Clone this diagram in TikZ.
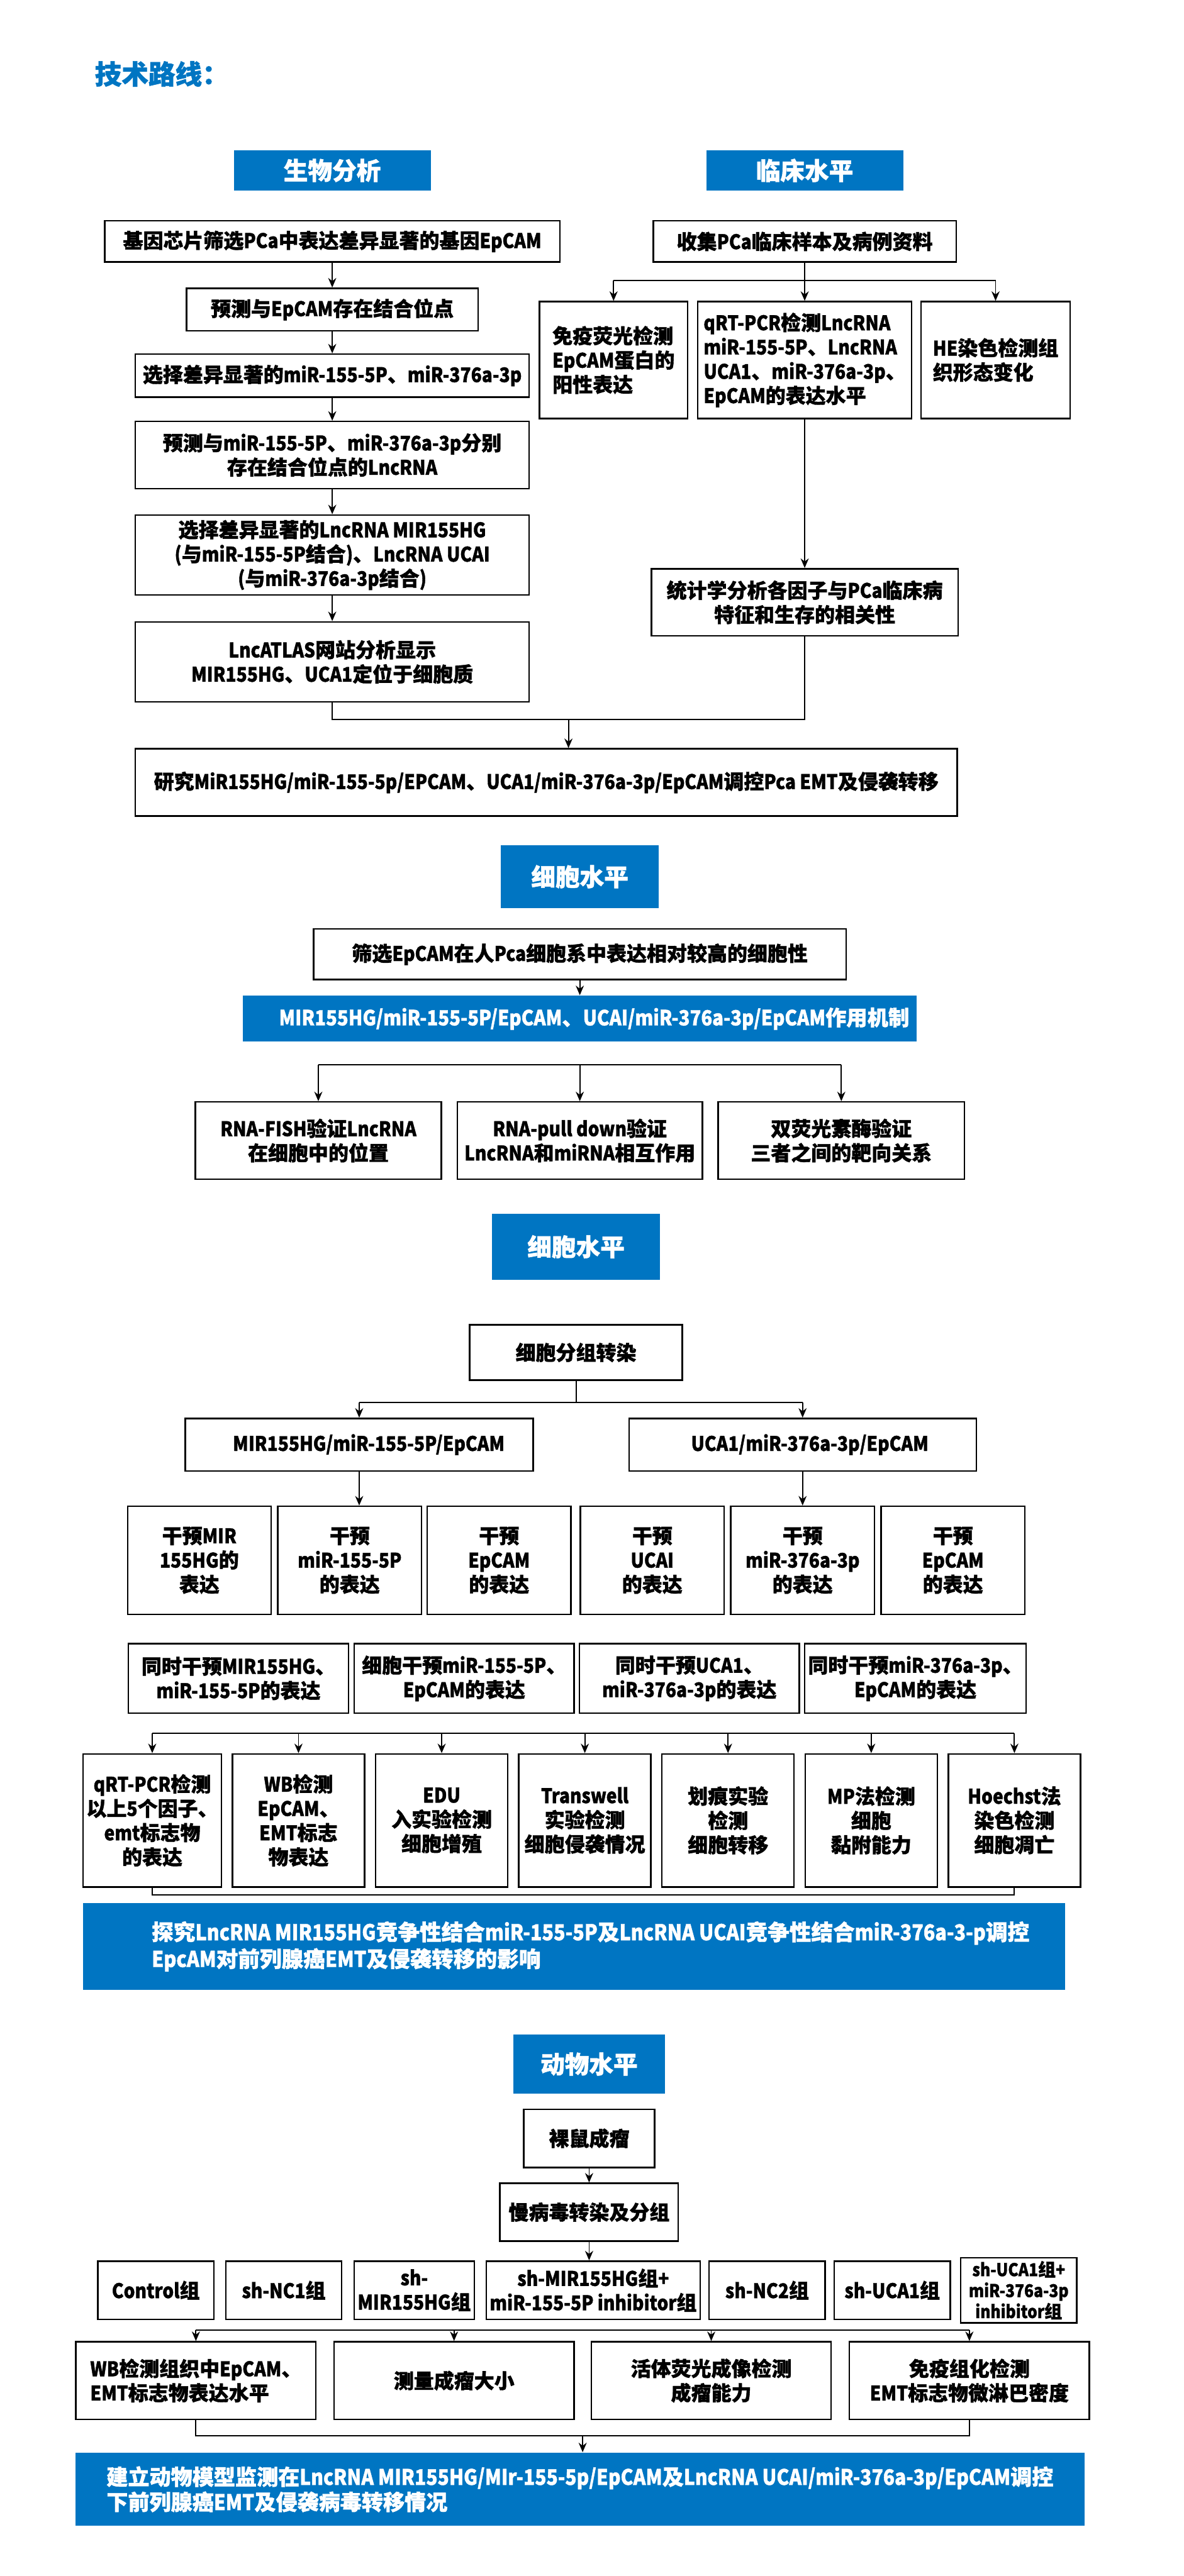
\documentclass[tikz,border=0pt]{standalone}
\usepackage{fontspec}
\setmainfont{Noto Sans CJK SC}[FakeStretch=0.88, BoldFeatures={FakeBold=1.2}]
\newfontfamily\cjkfont{Noto Sans CJK SC}[BoldFeatures={FakeBold=1.2}]
%% CJK characters keep full width, Latin runs are set narrower
\newXeTeXintercharclass\cjkcls
\count255="4E00
\loop\XeTeXcharclass\count255=\cjkcls
  \advance\count255 by 1
  \ifnum\count255<"A000 \repeat
\count255="3000
\loop\XeTeXcharclass\count255=\cjkcls
  \advance\count255 by 1
  \ifnum\count255<"3040 \repeat
\count255="FF00
\loop\XeTeXcharclass\count255=\cjkcls
  \advance\count255 by 1
  \ifnum\count255<"FFF0 \repeat
\XeTeXinterchartoks 0 \cjkcls = {\cjkfont}
\XeTeXinterchartoks 4095 \cjkcls = {\cjkfont}
\XeTeXinterchartoks \cjkcls 0 = {\rmfamily}
\XeTeXinterchartokenstate=1
\usepackage{xcolor}
\usepackage{tikz}
\usetikzlibrary{arrows.meta, positioning, calc}
\definecolor{routeblue}{RGB}{0,117,194}
\tikzset{
  %% Plain step box
  sbox/.style={
    rectangle, draw=black, fill=white,
    line width=0.9pt, align=center,
    font=\bfseries\fontsize{12}{14.5}\selectfont,
    inner sep=2pt
  },
  %% Blue stage header
  hbox/.style={
    rectangle, fill=routeblue, text=white,
    font=\bfseries\fontsize{14.5}{17}\selectfont,
    inner sep=2pt
  },
  %% Blue conclusion box
  cbox/.style={
    rectangle, fill=routeblue, text=white, align=left,
    font=\bfseries\fontsize{13}{16}\selectfont,
    inner sep=3pt
  },
  %% Arrow
  arr/.style={-{Stealth[length=0.2cm,width=0.17cm]},
              draw=black, line width=0.7pt},
  %% Plain joining line
  ln/.style={draw=black, line width=0.75pt},
}

\begin{document}
\begin{tikzpicture}
  \useasboundingbox (0,0) rectangle (24.81,-54.02);

  %% Title
  \node[anchor=west, inner sep=0pt, text=routeblue,
        font=\bfseries\fontsize{16}{19}\selectfont] (title) at (1.98,-1.55) {技术路线：};

  %% Bioinformatics and clinical level
  \node[hbox, minimum width=4.13cm, minimum height=0.85cm] (bio) at (6.965,-3.575) {生物分析};
  \node[hbox, minimum width=4.13cm, minimum height=0.85cm, right=5.76cm of bio] (clin) {临床水平};

  \node[sbox, minimum width=9.54cm, minimum height=0.86cm, below=0.61cm of bio]
       (chip) {基因芯片筛选PCa中表达差异显著的基因EpCAM};
  \node[sbox, minimum width=6.11cm, minimum height=0.89cm, below=0.52cm of chip]
       (site) {预测与EpCAM存在结合位点};
  \node[sbox, minimum width=8.26cm, minimum height=0.90cm, below=0.46cm of site]
       (mirsel) {选择差异显著的miR-155-5P、miR-376a-3p};
  \node[sbox, minimum width=8.26cm, minimum height=1.41cm, below=0.48cm of mirsel]
       (lncpred) {预测与miR-155-5P、miR-376a-3p分别\\存在结合位点的LncRNA};
  \node[sbox, minimum width=8.26cm, minimum height=1.68cm, below=0.52cm of lncpred]
       (lncsel) {选择差异显著的LncRNA MIR155HG\\(与miR-155-5P结合)、LncRNA UCAI\\(与miR-376a-3p结合)};
  \node[sbox, minimum width=8.26cm, minimum height=1.68cm, below=0.53cm of lncsel]
       (atlas) {LncATLAS网站分析显示\\MIR155HG、UCA1定位于细胞质};

  \node[sbox, minimum width=6.35cm, minimum height=0.86cm, below=0.61cm of clin]
       (collect) {收集PCa临床样本及病例资料};
  \node[sbox, minimum width=4.48cm, minimum height=2.45cm, below=0.80cm of collect, align=left]
       (qpcr) {qRT-PCR检测LncRNA\\miR-155-5P、LncRNA\\UCA1、miR-376a-3p、\\EpCAM的表达水平};
  \node[sbox, minimum width=3.11cm, minimum height=2.45cm, left=0.18cm of qpcr, align=left]
       (ifluo) {免疫荧光检测\\EpCAM蛋白的\\阳性表达};
  \node[sbox, minimum width=3.12cm, minimum height=2.45cm, right=0.17cm of qpcr, align=left]
       (hestain) {HE染色检测组\\织形态变化};
  \node[sbox, minimum width=6.43cm, minimum height=1.41cm, below=3.12cm of qpcr]
       (stat) {统计学分析各因子与PCa临床病\\特征和生存的相关性};

  \node[sbox, minimum width=17.23cm, minimum height=1.41cm,
        below right=0.95cm and 0cm of atlas.south west]
       (study) {研究MiR155HG/miR-155-5p/EPCAM、UCA1/miR-376a-3p/EpCAM调控Pca EMT及侵袭转移};

  %% Arrows
  \draw[arr] (chip)    -- (site);
  \draw[arr] (site)    -- (mirsel);
  \draw[arr] (mirsel)  -- (lncpred);
  \draw[arr] (lncpred) -- (lncsel);
  \draw[arr] (lncsel)  -- (atlas);

  \coordinate (cb) at ($(collect.south)+(0,-0.37)$);
  \draw[ln] (collect.south) -- (cb);
  \draw[ln] (cb -| ifluo.north) -- (cb -| hestain.north);
  \foreach \n in {ifluo, qpcr, hestain}
    \draw[arr] (cb -| \n.north) -- (\n.north);
  \draw[arr] (qpcr) -- (stat);

  \coordinate (mgl) at ($(atlas.south)+(0,-0.35)$);
  \coordinate (mgr) at (mgl -| stat.south);
  \draw[ln] (atlas.south) -- (mgl) -- (mgr) -- (stat.south);
  \coordinate (mgc) at ($(mgl)!0.5!(mgr)$);
  \draw[arr] (mgc) -- (mgc |- study.north);

  %% Cell level: mechanism
  \node[hbox, minimum width=3.31cm, minimum height=1.31cm] (cellA) at (12.155,-18.385) {细胞水平};
  \node[sbox, minimum width=11.16cm, minimum height=1.06cm, below=0.42cm of cellA]
       (screen) {筛选EpCAM在人Pca细胞系中表达相对较高的细胞性};
  \node[cbox, minimum width=14.13cm, minimum height=0.97cm,
        font=\bfseries\fontsize{12.5}{15}\selectfont, below=0.31cm of screen]
       (mech) {\hspace*{0.6cm}MIR155HG/miR-155-5P/EpCAM、UCAI/miR-376a-3p/EpCAM作用机制};
  \draw[arr] (screen) -- (mech);

  \node[sbox, minimum width=5.14cm, minimum height=1.62cm, below=1.24cm of mech]
       (pulldown) {RNA-pull down验证\\LncRNA和miRNA相互作用};
  \node[sbox, minimum width=5.16cm, minimum height=1.62cm, left=0.30cm of pulldown]
       (fish) {RNA-FISH验证LncRNA\\在细胞中的位置};
  \node[sbox, minimum width=5.16cm, minimum height=1.62cm, right=0.30cm of pulldown]
       (luci) {双荧光素酶验证\\三者之间的靶向关系};

  \coordinate (vb) at ($(pulldown.north)+(0,0.76)$);
  \draw[ln] (vb -| fish.north) -- (vb -| luci.north);
  \foreach \n in {fish, pulldown, luci}
    \draw[arr] (vb -| \n.north) -- (\n.north);

  %% Cell level: transfection
  \node[hbox, minimum width=3.53cm, minimum height=1.39cm] (cellB) at (12.075,-26.145) {细胞水平};
  \node[sbox, minimum width=4.46cm, minimum height=1.16cm, below=0.92cm of cellB]
       (transf) {细胞分组转染};
  \node[sbox, minimum width=7.29cm, minimum height=1.10cm, below=0.77cm of transf, xshift=-4.545cm]
       (axisA) {\hspace*{0.4cm}MIR155HG/miR-155-5P/EpCAM};
  \node[sbox, minimum width=7.28cm, minimum height=1.10cm, below=0.77cm of transf, xshift=4.75cm]
       (axisB) {\hspace*{0.3cm}UCA1/miR-376a-3p/EpCAM};

  \coordinate (tb) at ($(transf.south)+(0,-0.45)$);
  \draw[ln] (transf.south) -- (tb);
  \draw[ln] (tb -| axisA.north) -- (tb -| axisB.north);
  \draw[arr] (tb -| axisA.north) -- (axisA.north);
  \draw[arr] (tb -| axisB.north) -- (axisB.north);

  \node[sbox, minimum width=3.01cm, minimum height=2.27cm, below=0.71cm of axisA, xshift=-0.2cm]
       (kdB) {干预\\miR-155-5P\\的表达};
  \node[sbox, minimum width=3.01cm, minimum height=2.27cm, left=0.11cm of kdB]
       (kdA) {干预MIR\\155HG的\\表达};
  \node[sbox, minimum width=3.01cm, minimum height=2.27cm, right=0.09cm of kdB]
       (kdC) {干预\\EpCAM\\的表达};
  \node[sbox, minimum width=3.01cm, minimum height=2.27cm, below=0.71cm of axisB]
       (kdE) {干预\\miR-376a-3p\\的表达};
  \node[sbox, minimum width=3.01cm, minimum height=2.27cm, left=0.11cm of kdE]
       (kdD) {干预\\UCAI\\的表达};
  \node[sbox, minimum width=3.01cm, minimum height=2.27cm, right=0.11cm of kdE]
       (kdF) {干预\\EpCAM\\的表达};
  \draw[arr] (axisA.south) -- (axisA.south |- kdB.north);
  \draw[arr] (axisB) -- (kdE);

  \node[sbox, minimum width=4.61cm, minimum height=1.46cm, anchor=north west]
       (coA) at ($(kdA.south west)+(0.02,-0.58)$) {同时干预MIR155HG、\\miR-155-5P的表达};
  \node[sbox, minimum width=4.61cm, minimum height=1.46cm, right=0.09cm of coA]
       (coB) {细胞干预miR-155-5P、\\EpCAM的表达};
  \node[sbox, minimum width=4.61cm, minimum height=1.46cm, right=0.08cm of coB]
       (coC) {同时干预UCA1、\\miR-376a-3p的表达};
  \node[sbox, minimum width=4.61cm, minimum height=1.46cm, right=0.08cm of coC]
       (coD) {同时干预miR-376a-3p、\\EpCAM的表达};

  \node[sbox, minimum width=2.77cm, minimum height=2.79cm, anchor=north west]
       (tqpcr) at ($(coA.south west)+(-0.95,-0.82)$) {qRT-PCR检测\\以上5个因子、\\emt标志物\\的表达};
  \node[sbox, minimum width=2.77cm, minimum height=2.79cm, right=0.2cm of tqpcr]
       (twb) {WB检测\\EpCAM、\\EMT标志\\物表达};
  \node[sbox, minimum width=2.77cm, minimum height=2.79cm, right=0.2cm of twb]
       (tedu) {EDU\\入实验检测\\细胞增殖};
  \node[sbox, minimum width=2.77cm, minimum height=2.79cm, right=0.2cm of tedu]
       (ttrans) {Transwell\\实验检测\\细胞侵袭情况};
  \node[sbox, minimum width=2.77cm, minimum height=2.79cm, right=0.2cm of ttrans]
       (tscratch) {划痕实验\\检测\\细胞转移};
  \node[sbox, minimum width=2.77cm, minimum height=2.79cm, right=0.2cm of tscratch]
       (tmp) {MP法检测\\细胞\\黏附能力};
  \node[sbox, minimum width=2.77cm, minimum height=2.79cm, right=0.2cm of tmp]
       (thoe) {Hoechst法\\染色检测\\细胞凋亡};

  \coordinate (ab) at ($(tqpcr.north)+(0,0.42)$);
  \draw[ln] (ab) -- (ab -| thoe.north);
  \foreach \n in {tqpcr, twb, tedu, ttrans, tscratch, tmp, thoe}
    \draw[arr] (ab -| \n.north) -- (\n.north);
  \draw[ln] (tqpcr.south) -- ++(0,-0.15) -| (thoe.south);

  \node[cbox, minimum width=20.59cm, minimum height=1.83cm, anchor=north west]
       (probe) at ($(tqpcr.south west)+(0,-0.31)$)
       {\hspace*{0.7cm}探究LncRNA MIR155HG竞争性结合miR-155-5P及LncRNA UCAI竞争性结合miR-376a-3-p调控\\
        \hspace*{0.7cm}EpcAM对前列腺癌EMT及侵袭转移的影响};

  %% Animal level
  \node[hbox, minimum width=3.18cm, minimum height=1.25cm] (animal) at (12.35,-43.285) {动物水平};
  \node[sbox, minimum width=2.74cm, minimum height=1.22cm, below=0.30cm of animal]
       (nude) {裸鼠成瘤};
  \node[sbox, minimum width=3.74cm, minimum height=1.21cm, below=0.30cm of nude]
       (lenti) {慢病毒转染及分组};
  \draw[arr] (nude) -- (lenti);

  \node[sbox, minimum width=4.45cm, minimum height=1.22cm, below=0.39cm of lenti, xshift=0.085cm]
       (gshinhA) {sh-MIR155HG组+\\miR-155-5P inhibitor组};
  \node[sbox, minimum width=2.43cm, minimum height=1.22cm, left=0.22cm of gshinhA]
       (gshmir) {sh-\\MIR155HG组};
  \node[sbox, minimum width=2.43cm, minimum height=1.22cm, left=0.23cm of gshmir]
       (gncA) {sh-NC1组};
  \node[sbox, minimum width=2.43cm, minimum height=1.22cm, left=0.22cm of gncA]
       (gctrl) {Control组};
  \node[sbox, minimum width=2.43cm, minimum height=1.22cm, right=0.16cm of gshinhA]
       (gncB) {sh-NC2组};
  \node[sbox, minimum width=2.43cm, minimum height=1.22cm, right=0.16cm of gncB]
       (gshuca) {sh-UCA1组};
  \node[sbox, minimum width=2.43cm, minimum height=1.22cm, right=0.19cm of gshuca,
        font=\bfseries\fontsize{10.5}{12.5}\selectfont]
       (gshinhB) {sh-UCA1组+\\miR-376a-3p\\inhibitor组};
  \draw[arr] (lenti.south) -- (lenti.south |- gshinhA.north);

  \node[sbox, minimum width=5.03cm, minimum height=1.63cm, anchor=north west, align=left]
       (pwb) at ($(gctrl.south west)+(-0.46,-0.44)$) {WB检测组织中EpCAM、\\EMT标志物表达水平};
  \node[sbox, minimum width=5.03cm, minimum height=1.63cm, right=0.35cm of pwb]
       (psize) {测量成瘤大小};
  \node[sbox, minimum width=5.03cm, minimum height=1.63cm, right=0.33cm of psize]
       (pimg) {活体荧光成像检测\\成瘤能力};
  \node[sbox, minimum width=5.03cm, minimum height=1.63cm, right=0.35cm of pimg]
       (pihc) {免疫组化检测\\EMT标志物微淋巴密度};

  \coordinate (pb) at ($(pwb.north)+(0,0.23)$);
  \draw[ln] (pb) -- (pb -| pihc.north);
  \foreach \n in {pwb, psize, pimg, pihc}
    \draw[arr] (pb -| \n.north) -- (\n.north);

  \node[cbox, minimum width=21.15cm, minimum height=1.54cm, anchor=north west,
        font=\bfseries\fontsize{12.8}{15}\selectfont]
       (model) at ($(pwb.south west)+(0,-0.67)$)
       {建立动物模型监测在LncRNA MIR155HG/MIr-155-5p/EpCAM及LncRNA UCAI/miR-376a-3p/EpCAM调控\\下前列腺癌EMT及侵袭病毒转移情况};

  \coordinate (ql) at ($(pwb.south)+(0,-0.33)$);
  \coordinate (qr) at (ql -| pihc.south);
  \draw[ln] (pwb.south) -- (ql) -- (qr) -- (pihc.south);
  \coordinate (qc) at ($(ql)!0.5!(qr)$);
  \draw[arr] (qc) -- (qc |- model.north);

\end{tikzpicture}
\end{document}
